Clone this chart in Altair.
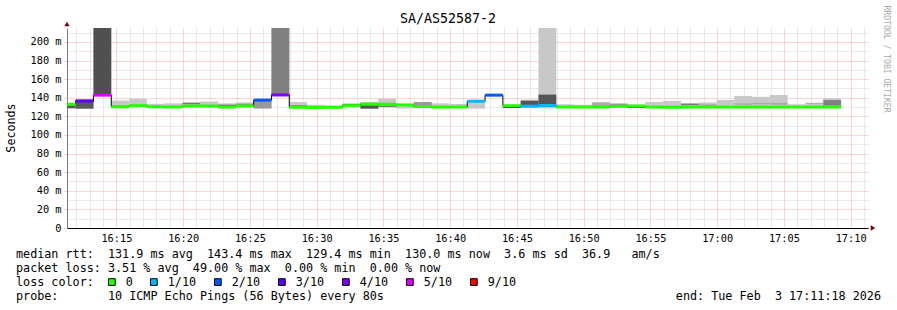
import altair as alt
import pandas as pd

MONO = "DejaVu Sans Mono"

chart_title = "SA/AS52587-2"
y_title = "Seconds"
watermark = "RRDTOOL / TOBI OETIKER"
first_step_start = "2026-02-03 16:10:37"
step_seconds = 80
view_start = (2026, 2, 3, 16, 11, 18)
view_end = (2026, 2, 3, 17, 11, 18)

x_tick_labels = ["16:15", "16:20", "16:25", "16:30", "16:35", "16:40",
                 "16:45", "16:50", "16:55", "17:00", "17:05", "17:10"]
y_tick_values = [0, 20, 40, 60, 80, 100, 120, 140, 160, 180, 200]
y_minor_values = [10, 30, 50, 70, 90, 110, 130, 150, 170, 190, 210]

# median rtt per 80 s step (ms)
median = [133.0, 136.5, 142.8, 130.3, 131.5, 130.3, 130.1, 131.2, 131.2, 130.0,
          131.2, 137.5, 143.0, 129.8, 129.6, 129.8, 131.5, 133.2, 133.0, 132.3,
          130.5, 129.9, 130.0, 136.3, 142.8, 131.5, 131.0, 131.7, 130.1, 130.0,
          130.0, 130.8, 131.2, 130.0, 129.8, 130.0, 130.0, 130.0, 130.0, 130.0,
          130.0, 130.0, 130.0, 130.0]
loss = ["0", "3/10", "5/10", "0", "0", "0", "0", "0", "0", "0",
        "0", "2/10", "4/10", "0", "0", "0", "0", "0", "0", "0",
        "0", "0", "0", "1/10", "2/10", "0", "1/10", "1/10", "0", "0",
        "0", "0", "0", "0", "0", "0", "0", "0", "0", "0",
        "0", "0", "0", "0"]
# light smoke band (ms)
smoke_lo = [128.7, 128.3, 142.5, 130.0, 130.5, 129.3, 129.5, 130.0, 130.5, 129.5,
            130.0, 128.5, 143.0, 129.0, 129.0, 129.3, 130.5, 128.3, 129.5, 128.5,
            130.0, 129.5, 129.5, 128.3, None, 129.0, 129.0, 128.5, 129.5, 129.5,
            129.5, 129.5, 129.0, 129.5, 129.5, 129.5, 129.5, 129.5, 129.5, 129.5,
            129.5, 129.5, 129.5, 130.0]
smoke_hi = [134.0, 138.0, 240.0, 137.0, 139.0, 133.5, 134.0, 135.5, 136.0, 134.0,
            135.0, 138.5, 240.0, 135.5, 132.5, 131.5, 133.5, 135.5, 139.0, 132.5,
            135.5, 134.0, 133.3, 135.5, None, 132.0, 138.0, 240.0, 133.0, 132.5,
            135.0, 134.0, 132.5, 135.5, 136.6, 134.0, 135.0, 137.6, 142.0, 141.0,
            143.0, 133.0, 134.5, 139.5]
# darker core of the smoke (ms) and its grey
core_lo = [128.7, 128.3, 142.5, 130.0, 131.0, 129.3, None, 133.0, None, 131.3,
           132.5, 128.5, 143.0, 130.5, None, None, 132.3, 128.3, 130.5, None,
           130.0, None, None, None, None, 129.0, 131.5, 131.8, None, None,
           129.5, 132.5, 129.0, None, None, 132.0, 131.5, None, 132.5, 133.0,
           132.5, None, 133.5, 131.5]
core_hi = [132.0, 138.0, 240.0, 131.5, 132.5, 130.5, None, 134.3, None, 132.5,
           133.5, 136.5, 240.0, 132.0, None, None, 133.5, 132.0, 131.5, None,
           135.5, None, None, None, None, 130.3, 136.8, 143.4, None, None,
           135.0, 133.5, 130.2, None, None, 133.7, 132.7, None, 134.0, 134.5,
           134.5, None, 134.5, 137.5]
core_shade = ["#5a5a5a", "#5a5a5a", "#505050", "#999999", "#999999", "#555555", None, "#777777", None, "#666666",
              "#777777", "#999999", "#808080", "#888888", None, None, "#555555", "#555555", "#444444", None,
              "#9a9a9a", None, None, None, None, "#444444", "#555555", "#555555", None, None,
              "#aaaaaa", "#888888", "#555555", None, None, "#777777", "#999999", None, "#aaaaaa", "#aaaaaa",
              "#aaaaaa", None, "#aaaaaa", "#808080"]

loss_labels = ["0", "1/10", "2/10", "3/10", "4/10", "5/10", "9/10"]
loss_colors = ["#26ff00", "#00b8ff", "#0059ff", "#5e00ff", "#7e00ff", "#dd00ff", "#ff0000"]

line1 = "median rtt:  131.9 ms avg  143.4 ms max  129.4 ms min  130.0 ms now  3.6 ms sd  36.9   am/s"
line2 = "packet loss: 3.51 % avg  49.00 % max  0.00 % min  0.00 % now"
legend_title = "loss color:"
line4 = "probe:       10 ICMP Echo Pings (56 Bytes) every 80s"
end_text = "end: Tue Feb  3 17:11:18 2026"

# ---------------------------------------------------------------------------
iso = lambda t: t.strftime("%Y-%m-%dT%H:%M:%SZ")
t0 = pd.Timestamp(first_step_start)
n = len(median)
starts = [t0 + pd.Timedelta(seconds=step_seconds * i) for i in range(n)]
ends = [s + pd.Timedelta(seconds=step_seconds) for s in starts]

df = pd.DataFrame({
    "start": [iso(t) for t in starts], "end": [iso(t) for t in ends],
    "median": median, "loss": loss,
    "slo": smoke_lo, "shi": smoke_hi,
    "clo": core_lo, "chi": core_hi, "cshade": core_shade,
})
df_outer = df.dropna(subset=["slo", "shi"])[["start", "end", "slo", "shi"]]
df_core = df.dropna(subset=["clo", "chi"])[["start", "end", "clo", "chi", "cshade"]]
df_med = df[["start", "end", "median", "loss"]]
df_line = pd.DataFrame({"t": [iso(t) for t in starts] + [iso(ends[-1])],
                        "median": median + [median[-1]]})
df_legend = pd.DataFrame({"loss": loss_labels})


def dt(h, m, s=0):
    return alt.DateTime(year=2026, month=2, date=3, hours=h, minutes=m, seconds=s, utc=True)


xscale = alt.Scale(type="utc", domain=[dt(*view_start[3:]), dt(*view_end[3:])], nice=False)
yscale = alt.Scale(domain=[0, 215], nice=False, zero=True)
cscale = alt.Scale(domain=loss_labels, range=loss_colors)

major_x = [dt(int(l[:2]), int(l[3:])) for l in x_tick_labels]
minor_x = []
h, m = 16, 12
while (h, m) <= (17, 11):
    if m % 5 != 0:
        minor_x.append(dt(h, m))
    m += 1
    if m == 60:
        h, m = h + 1, 0

grid_common = dict(gridDash=[1, 1], gridOpacity=0.33, gridWidth=1)

minor_x_axis = alt.Axis(values=minor_x, grid=True, gridColor="#808080", labels=False, ticks=False,
                        domain=False, title=None, orient="bottom", **grid_common)
minor_y_axis = alt.Axis(values=y_minor_values, grid=True, gridColor="#808080", labels=False, ticks=False,
                        domain=False, title=None, orient="left", **grid_common)
major_x_axis = alt.Axis(values=major_x, format="%H:%M", grid=True, gridColor="#ff0000",
                        labelFont=MONO, labelFontSize=10.3, labelColor="#000", labelPadding=5,
                        ticks=False, domainColor="#000000", domainWidth=1,
                        title=None, orient="bottom", labelFlush=False, labelOverlap=False, **grid_common)
major_y_axis = alt.Axis(values=y_tick_values, labelExpr="datum.value == 0 ? '0' : datum.value + ' m'",
                        grid=True, gridColor="#ff0000", labelFont=MONO, labelFontSize=10.3,
                        labelColor="#000", labelPadding=2, ticks=True, tickSize=4, tickColor="#ff0000",
                        tickOpacity=0.33, tickDash=[1, 1],
                        domainColor="#808080", title=None, orient="left", labelOverlap=False, **grid_common)

outer = alt.Chart(df_outer).mark_rect(color="#c8c8c8", clip=True).encode(
    x=alt.X("start:T", scale=xscale, axis=minor_x_axis), x2="end:T",
    y=alt.Y("slo:Q", scale=yscale, axis=minor_y_axis), y2="shi:Q")

core = alt.Chart(df_core).mark_rect(clip=True).encode(
    x=alt.X("start:T", scale=xscale, axis=None), x2="end:T",
    y=alt.Y("clo:Q", scale=yscale, axis=None), y2="chi:Q",
    fill=alt.Fill("cshade:N", scale=None))

black = alt.Chart(df_line).mark_line(interpolate="step-after", color="#000000", strokeWidth=1, clip=True).encode(
    x=alt.X("t:T", scale=xscale, axis=major_x_axis),
    y=alt.Y("median:Q", scale=yscale, axis=major_y_axis))

med = alt.Chart(df_med).mark_rule(strokeWidth=3, clip=True).encode(
    x=alt.X("start:T", scale=xscale, axis=None), x2="end:T",
    y=alt.Y("median:Q", scale=yscale, axis=None),
    color=alt.Color("loss:N", scale=cscale, legend=None))

legend = alt.Legend(
    orient="none", legendX=-51, legendY=248, direction="horizontal",
    title=legend_title, titleOrient="left", titleFont=MONO, titleFontSize=11.75,
    titleFontWeight="normal", titleColor="#000", titlePadding=12, titleBaseline="middle",
    labelFont=MONO, labelFontSize=11.75, labelColor="#000", labelOffset=8,
    symbolType="square", symbolSize=45, symbolStrokeColor="#000", symbolStrokeWidth=1,
    symbolOpacity=1, columnPadding=15, padding=0, values=loss_labels)

legend_layer = alt.Chart(df_legend).mark_square(filled=True, opacity=0, stroke="#000000", strokeWidth=1).encode(
    fill=alt.Fill("loss:N", scale=cscale, legend=legend))


def text_layer(txt, x, y, align="left", angle=0, size=11.75, color="#000000"):
    return alt.Chart(alt.Data(values=[{"t": txt.replace(" ", "\u00a0")}])).mark_text(
        align=align, baseline="middle", font=MONO, fontSize=size, color=color, angle=angle
    ).encode(text="t:N", x=alt.value(x), y=alt.value(y))


texts = [
    text_layer(chart_title, 381, -9, align="center", size=13.3),
    text_layer(y_title, -56, 100, align="center", angle=270, size=11.7),
    text_layer(watermark, 819, 31, align="center", angle=90, size=8.1, color="#aaaaaa"),
    text_layer(line1, -51, 226),
    text_layer(line2, -51, 240),
    text_layer(line4, -51, 268),
    text_layer(end_text, 814, 268, align="right"),
]

arrow_x = alt.Chart(alt.Data(values=[{"a": 1}])).mark_point(
    shape="triangle-right", filled=True, color="#7f0000", size=28, opacity=1
).encode(x=alt.value(806), y=alt.value(200))
arrow_y = alt.Chart(alt.Data(values=[{"a": 1}])).mark_point(
    shape="triangle-up", filled=True, color="#7f0000", size=28, opacity=1
).encode(x=alt.value(0), y=alt.value(-4))

chart = alt.layer(outer, core, black, med, legend_layer, *texts, arrow_x, arrow_y).resolve_axis(
    x="independent", y="independent"
).resolve_scale(color="independent", fill="independent").properties(
    width=801, height=200,
    autosize=alt.AutoSizeParams(type="none"),
    padding={"left": 67, "top": 28, "right": 29, "bottom": 82},
    background="white",
).configure_view(stroke=None)

chart.save("out.html", embed_options={"renderer": "svg", "actions": False})
